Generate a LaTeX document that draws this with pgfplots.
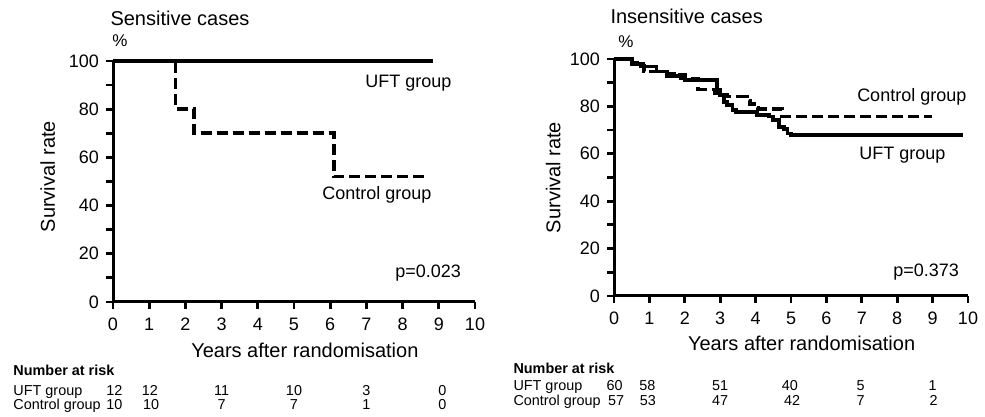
\documentclass[border=0pt]{standalone}
\usepackage{fontspec}
\setmainfont{Liberation Sans}
\usepackage{pgfplots}
\pgfplotsset{compat=1.18}

\pgfplotsset{
  km/.style={
    scale only axis,
    anchor=south west,
    xmin=0, xmax=10, ymin=0, ymax=100,
    axis x line=bottom, axis y line=left,
    axis line style={-, line width=1.5pt},
    xtick={0,...,10}, ytick={0,20,...,100}, minor ytick={10,30,...,90},
    tick align=outside, major tick length=3.5pt, minor tick length=3.5pt,
    tick style={black, line width=1.4pt},
    tick label style={font=\fontsize{9}{10}\selectfont},
    xticklabel style={yshift=-1pt},
    /pgf/number format/assume math mode=true,
    clip=false,
    xlabel={Years after randomisation},
    ylabel={Survival rate},
    label style={font=\fontsize{10}{12}\selectfont},
    xlabel style={at={(axis description cs:0.53,-0.23)}, anchor=base},
  },
}
\tikzset{
  uft/.style={const plot, black, line width=1.9pt},
  ctl/.style={const plot, black, line width=1.8pt, dash pattern=on 5.5pt off 2.5pt},
  risk/.style={anchor=base, inner sep=0pt, font=\fontsize{7.2}{8}\selectfont},
  riskrow/.style={anchor=base west, inner sep=0pt, font=\fontsize{7.2}{8}\selectfont},
  lbl/.style={anchor=base west, inner sep=0pt, font=\fontsize{9}{10}\selectfont},
  ttl/.style={anchor=base west, inner sep=0pt, font=\fontsize{10}{12}\selectfont},
  pct/.style={anchor=base west, inner sep=0pt, font=\fontsize{8.5}{10}\selectfont},
}

\begin{document}
\begin{tikzpicture}
\path[use as bounding box] (0,0) rectangle (492.5pt,208.5pt);

% sensitive cases
\begin{axis}[km, at={(56.5pt,57.5pt)}, width=181pt, height=120.5pt,
  ylabel style={at={(axis description cs:-0.18,0.52)}, anchor=center}]
\addplot[ctl] coordinates {(0,100) (1.73,80) (2.24,70) (6.1,52) (8.67,52)};
\addplot[uft] coordinates {(0,100) (8.84,100)};
\node[ttl] at (axis cs:-0.08,114.9) {Sensitive cases};
\node[pct] at (axis cs:-0.03,105.9) {\%};
\node[lbl] at (axis cs:6.96,89.2) {UFT group};
\node[lbl] at (axis cs:5.77,42.7) {Control group};
\node[lbl] at (axis cs:7.79,10.0) {p=0.023};
% number at risk
\node[riskrow, font=\fontsize{7.2}{8}\selectfont\bfseries] at (axis cs:-2.76,-30.7) {Number at risk};
\node[riskrow] at (axis cs:-2.76,-38.6) {UFT group};
\node[riskrow] at (axis cs:-2.76,-44.4) {Control group};
\node[risk] at (axis cs:0.04,-38.6) {12};
\node[risk] at (axis cs:1.02,-38.6) {12};
\node[risk] at (axis cs:3.0,-38.6) {11};
\node[risk] at (axis cs:5.0,-38.6) {10};
\node[risk] at (axis cs:7.0,-38.6) {3};
\node[risk] at (axis cs:9.1,-38.6) {0};
\node[risk] at (axis cs:0.04,-44.4) {10};
\node[risk] at (axis cs:1.05,-44.4) {10};
\node[risk] at (axis cs:3.0,-44.4) {7};
\node[risk] at (axis cs:5.0,-44.4) {7};
\node[risk] at (axis cs:7.0,-44.4) {1};
\node[risk] at (axis cs:9.1,-44.4) {0};
\end{axis}

% insensitive cases
\begin{axis}[km, at={(307pt,60.5pt)}, width=177pt, height=118.5pt,
  ylabel style={at={(axis description cs:-0.172,0.5)}, anchor=center}]
\addplot[ctl] coordinates {
  (0,100) (0.5,98.5) (0.65,97) (0.85,94.7) (1.5,93.8) (1.7,93.2) (2.0,91.8)
  (2.37,87.2) (2.85,85.5) (3.0,84.8) (3.2,84.1) (3.75,82.5) (3.85,81)
  (3.95,79.5) (4.07,78.8) (4.75,75.7) (8.97,75.7)};
\addplot[uft] coordinates {
  (0,100) (0.5,97.9) (0.83,96.8) (1.2,94.7) (1.5,92.8) (1.9,91.8) (2.0,91.1)
  (2.9,87) (3.0,84.8) (3.1,82) (3.2,80.6) (3.35,78.5) (3.45,77.8) (4.03,76.4)
  (4.37,75.7) (4.5,74.3) (4.66,71.4) (4.8,70.5) (4.9,68.6) (5.0,67.9) (9.87,67.9)};
\node[ttl] at (axis cs:-0.11,114.8) {Insensitive cases};
\node[pct] at (axis cs:0.11,104.8) {\%};
\node[lbl] at (axis cs:6.86,81.9) {Control group};
\node[lbl] at (axis cs:6.92,57.8) {UFT group};
\node[lbl] at (axis cs:7.88,8.4) {p=0.373};
\node[riskrow, font=\fontsize{7.2}{8}\selectfont\bfseries] at (axis cs:-2.85,-32.5) {Number at risk};
\node[riskrow] at (axis cs:-2.85,-39.7) {UFT group};
\node[riskrow] at (axis cs:-2.85,-46) {Control group};
\node[risk] at (axis cs:0.02,-39.7) {60};
\node[risk] at (axis cs:0.94,-39.7) {58};
\node[risk] at (axis cs:3.0,-39.7) {51};
\node[risk] at (axis cs:4.97,-39.7) {40};
\node[risk] at (axis cs:6.97,-39.7) {5};
\node[risk] at (axis cs:9.0,-39.7) {1};
\node[risk] at (axis cs:0.06,-46) {57};
\node[risk] at (axis cs:0.96,-46) {53};
\node[risk] at (axis cs:3.0,-46) {47};
\node[risk] at (axis cs:5.03,-46) {42};
\node[risk] at (axis cs:6.97,-46) {7};
\node[risk] at (axis cs:9.03,-46) {2};
\end{axis}
\end{tikzpicture}
\end{document}
